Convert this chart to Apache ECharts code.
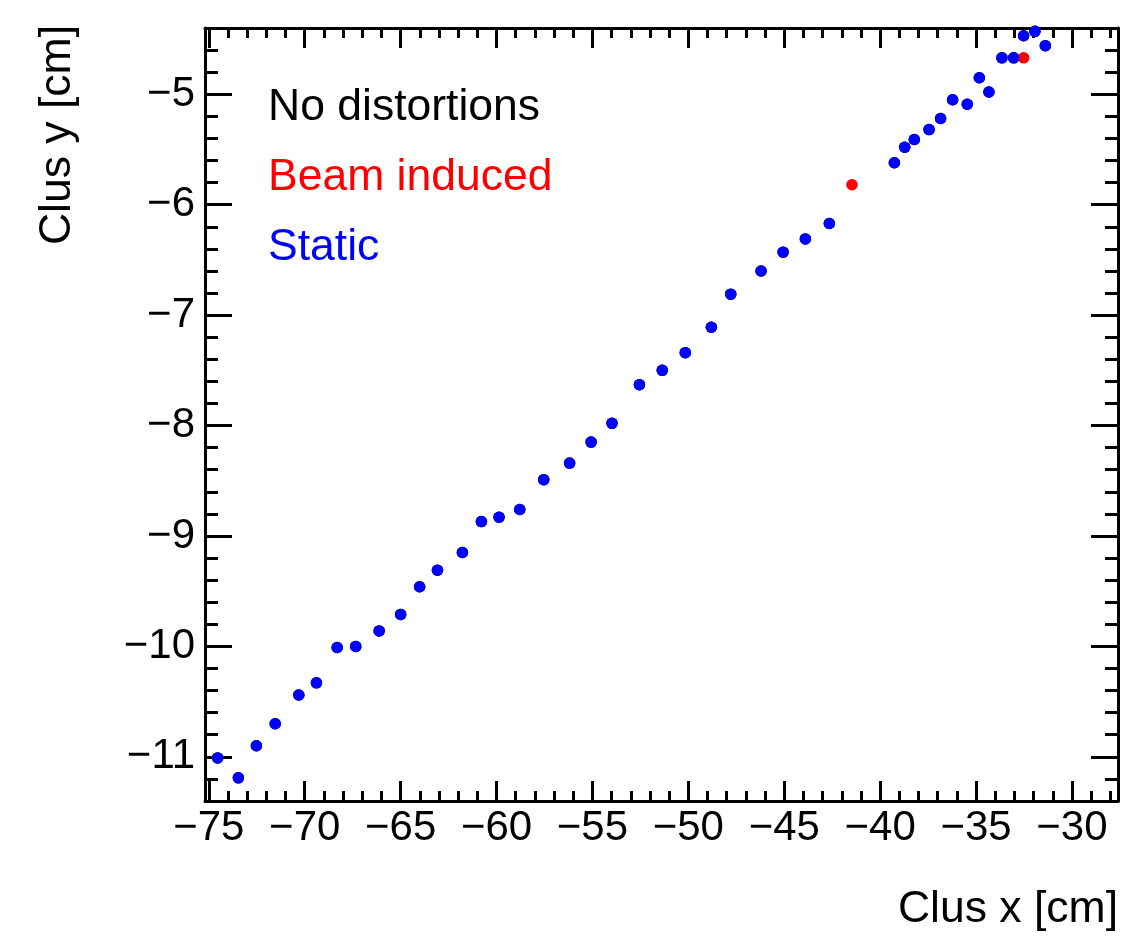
<!DOCTYPE html>
<html>
<head>
<meta charset="utf-8">
<script src="https://cdn.jsdelivr.net/npm/echarts@6/dist/echarts.min.js"></script>
<style>
html,body{margin:0;padding:0;background:#fff;}
#chart{width:1123px;height:937px;}
</style>
</head>
<body>
<div id="chart"></div>
<script>
// ---- data ----
const staticX = [-74.54,-73.46,-72.52,-71.54,-70.31,-69.39,-68.31,-67.34,-66.12,-65.00,
  -64.01,-63.08,-61.78,-60.79,-59.87,-58.79,-57.54,-56.19,-55.07,-53.98,
  -52.55,-51.36,-50.16,-48.80,-47.79,-46.21,-45.06,-43.90,-42.65,
  -39.26,-38.72,-38.22,-37.45,-36.85,-36.22,-35.46,-34.83,-34.33,-33.65,-33.04,
  -32.52,-31.93,-31.39];
const staticY = [-11.01,-11.19,-10.90,-10.70,-10.44,-10.33,-10.01,-10.00,-9.86,-9.71,
  -9.46,-9.31,-9.15,-8.87,-8.83,-8.76,-8.49,-8.34,-8.15,-7.98,
  -7.63,-7.50,-7.34,-7.11,-6.81,-6.60,-6.43,-6.31,-6.17,
  -5.62,-5.48,-5.41,-5.32,-5.22,-5.05,-5.09,-4.85,-4.98,-4.67,-4.67,
  -4.47,-4.43,-4.56];
const beamX = [-41.47,-32.52];
const beamY = [-5.82,-4.67];
// "No distortions" points are hidden beneath the static ones
const noDistX = staticX;
const noDistY = staticY;

const xTickLabels = [-75,-70,-65,-60,-55,-50,-45,-40,-35,-30];
const yTickLabels = [-11,-10,-9,-8,-7,-6,-5];
const X_MIN = -75.2, X_MAX = -27.6;
const Y_MIN = -11.4, Y_MAX = -4.4;

// minor tick positions
const xMinor = [];
for (let v = -75; v <= -28; v += 1) xMinor.push(v);
const yMinor = [];
for (let i = 0; i <= 35; i++) yMinor.push(Math.round((Y_MIN + i * 0.2) * 10) / 10);

const zip = (xs, ys) => xs.map((x, i) => [x, ys[i]]);
const FONT = "'Liberation Sans', Arial, Helvetica, sans-serif";
const fmt = v => String(v).replace('-', '\u2212');

function xAxisCfg(pos, major, showLine, showLabel, extra) {
  return Object.assign({
    type: 'value', gridIndex: 0, position: pos, min: X_MIN, max: X_MAX,
    axisLine: { show: showLine, onZero: false, lineStyle: { color: '#000', width: 3 } },
    axisTick: { show: true, inside: true, length: major ? 20 : 10,
      customValues: major ? xTickLabels : xMinor,
      lineStyle: { color: '#000', width: 3 } },
    axisLabel: showLabel ? { show: true, customValues: xTickLabels, formatter: fmt,
      fontFamily: FONT, fontSize: 42, color: '#000', margin: 6 } : { show: false },
    splitLine: { show: false }
  }, extra || {});
}
function yAxisCfg(pos, major, showLine, showLabel, extra) {
  return Object.assign({
    type: 'value', gridIndex: 0, position: pos, min: Y_MIN, max: Y_MAX,
    axisLine: { show: showLine, onZero: false, lineStyle: { color: '#000', width: 3 } },
    axisTick: { show: true, inside: true, length: major ? 27 : 13,
      customValues: major ? yTickLabels : yMinor,
      lineStyle: { color: '#000', width: 3 } },
    axisLabel: showLabel ? { show: true, customValues: yTickLabels, formatter: fmt,
      fontFamily: FONT, fontSize: 42, color: '#000', margin: 10 } : { show: false },
    splitLine: { show: false }
  }, extra || {});
}

const chart = echarts.init(document.getElementById('chart'), null, { renderer: 'canvas' });
chart.setOption({
  backgroundColor: '#fff',
  animation: false,
  grid: { left: 205, right: 5, top: 28, bottom: 136, containLabel: false, outerBoundsMode: 'none' },
  xAxis: [
    xAxisCfg('bottom', true, true, true, {
      name: 'Clus x [cm]', nameLocation: 'end', nameGap: 0,
      nameTextStyle: { fontFamily: FONT, fontSize: 44.5, color: '#000', align: 'right',
        verticalAlign: 'top', padding: [86, 0, 0, 0] }
    }),
    xAxisCfg('bottom', false, false, false),
    xAxisCfg('top', true, true, false),
    xAxisCfg('top', false, false, false)
  ],
  yAxis: [
    yAxisCfg('left', true, true, true, {
      name: 'Clus y [cm]', nameLocation: 'end', nameGap: 3, nameRotate: 90,
      nameTextStyle: { fontFamily: FONT, fontSize: 44.5, color: '#000', align: 'right',
        verticalAlign: 'bottom', padding: [0, 0, 125, 0] }
    }),
    yAxisCfg('left', false, false, false),
    yAxisCfg('right', true, true, false),
    yAxisCfg('right', false, false, false)
  ],
  legend: {
    orient: 'vertical', left: 263, top: 85, padding: 0, itemGap: 25,
    icon: 'none', itemWidth: 0, itemHeight: 44, selectedMode: false,
    textStyle: { fontFamily: FONT, fontSize: 44.5, lineHeight: 44 },
    data: [
      { name: 'No distortions', textStyle: { color: '#000000' } },
      { name: 'Beam induced', textStyle: { color: '#ff0000' } },
      { name: 'Static', textStyle: { color: '#0000ff' } }
    ]
  },
  series: [
    { name: 'No distortions', type: 'scatter', xAxisIndex: 0, yAxisIndex: 0,
      symbol: 'circle', symbolSize: 11.5, itemStyle: { color: '#000000', opacity: 1 },
      data: zip(noDistX, noDistY) },
    { name: 'Beam induced', type: 'scatter', xAxisIndex: 0, yAxisIndex: 0,
      symbol: 'circle', symbolSize: 11.5, itemStyle: { color: '#ff0000', opacity: 1 },
      data: zip(beamX, beamY) },
    { name: 'Static', type: 'scatter', xAxisIndex: 0, yAxisIndex: 0,
      symbol: 'circle', symbolSize: 11.5, itemStyle: { color: '#0000ff', opacity: 1 },
      data: zip(staticX, staticY) }
  ]
});
</script>
</body>
</html>
